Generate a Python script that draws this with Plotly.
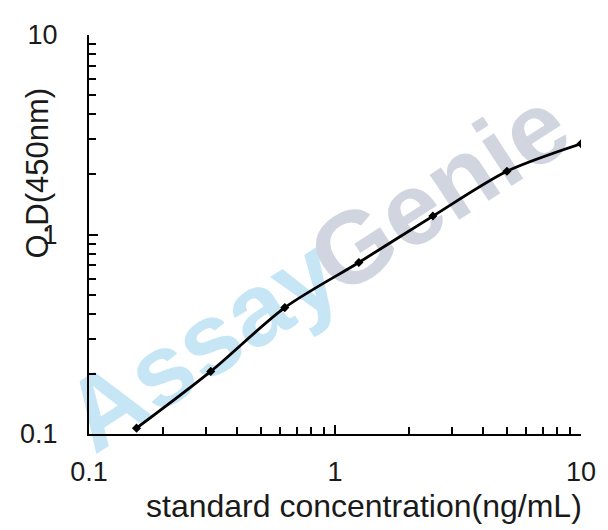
import plotly.graph_objects as go

# standard curve values
concentration = [0.156, 0.3125, 0.625, 1.25, 2.5, 5, 10]
od_450 = [0.107, 0.206, 0.430, 0.724, 1.237, 2.075, 2.85]

tick_vals = [0.1, 1, 10]
tick_text = ["0.1", "1", "10"]

x_title = "standard concentration(ng/mL)"
y_title = "O.D(450nm)"

font_family = "Liberation Sans, Arial, sans-serif"

fig = go.Figure(go.Scatter(
    x=concentration,
    y=od_450,
    mode="lines+markers",
    line=dict(color="black", width=2.8, shape="spline", smoothing=0.8),
    marker=dict(symbol="diamond", size=7, color="black"),
    showlegend=False,
))

axis_style = dict(
    type="log",
    tickvals=tick_vals,
    ticktext=tick_text,
    ticks="inside",
    ticklen=9,
    tickwidth=1.5,
    tickcolor="black",
    minor=dict(ticks="inside", ticklen=7, tickwidth=1.5, tickcolor="black", dtick="D1"),
    showline=True,
    linecolor="black",
    linewidth=2,
    showgrid=False,
    zeroline=False,
    tickfont=dict(family=font_family, size=27, color="#1a1a1a"),
)

fig.update_xaxes(axis_style, range=[-1, 1], ticklabelstandoff=13)
fig.update_yaxes(axis_style, range=[-1, 1], ticklabelstandoff=24)

# watermark drawn behind the curve
fig.add_shape(type="rect", xref="paper", yref="paper",
              x0=0.207, x1=0.227, y0=0.236, y1=0.256,
              line=dict(width=0), fillcolor="rgba(0,0,0,0)", layer="below",
              label=dict(text="Assay", textangle=-33, textposition="middle center",
                         font=dict(family=font_family, size=102, weight="bold",
                                   color="rgb(198,230,246)")))
fig.add_shape(type="rect", xref="paper", yref="paper",
              x0=0.690, x1=0.710, y0=0.619, y1=0.639,
              line=dict(width=0), fillcolor="rgba(0,0,0,0)", layer="below",
              label=dict(text="Genie", textangle=-33, textposition="middle center",
                         font=dict(family=font_family, size=102, weight="bold",
                                   color="rgb(208,213,223)")))

fig.add_annotation(text=x_title, xref="paper", yref="paper", x=0.559, y=-0.181,
                   showarrow=False, xanchor="center", yanchor="middle",
                   font=dict(family=font_family, size=32, color="#1a1a1a"))
fig.add_annotation(text=y_title, xref="paper", yref="paper", x=-0.105, y=0.654,
                   textangle=-90, showarrow=False, xanchor="center", yanchor="middle",
                   font=dict(family=font_family, size=31, color="#1a1a1a"))

# the page puts the figure 8px in from the top-left corner
fig.update_layout(
    width=600,
    height=522,
    margin=dict(l=74, r=23, t=19, b=96),
    plot_bgcolor="white",
    paper_bgcolor="white",
)

fig.write_html("out.html")
